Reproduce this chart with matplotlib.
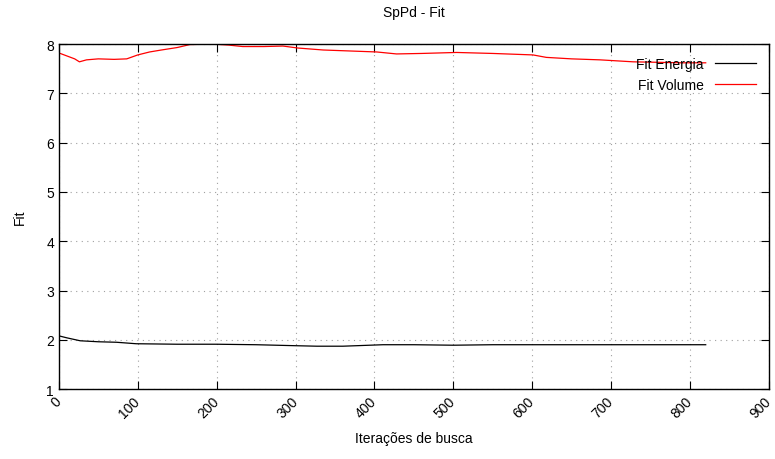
import matplotlib
matplotlib.use("Agg")
import matplotlib.pyplot as plt

plt.rcParams['font.family'] = ['Liberation Sans', 'DejaVu Sans']

# curvas (iteracao, fit)
iter_volume = [0, 10, 20, 26, 35, 50, 70, 86, 100, 115, 130, 150, 166, 180, 200, 215, 233,
               260, 284, 303, 335, 369, 403, 428, 460, 504, 550, 601, 618, 650, 686, 728,
               760, 790, 820]
fit_volume = [7.82, 7.76, 7.70, 7.64, 7.68, 7.70, 7.69, 7.70, 7.78, 7.84, 7.88, 7.93, 7.99,
              7.995, 7.995, 7.98, 7.95, 7.95, 7.96, 7.92, 7.88, 7.86, 7.84, 7.80, 7.81, 7.83,
              7.81, 7.78, 7.73, 7.70, 7.68, 7.64, 7.63, 7.62, 7.62]

iter_energia = [0, 10, 27, 50, 73, 98, 150, 200, 250, 300, 327, 360, 411, 450, 500, 550,
                600, 700, 820]
fit_energia = [2.08, 2.04, 1.98, 1.96, 1.95, 1.92, 1.91, 1.91, 1.90, 1.88, 1.87, 1.87, 1.90,
               1.90, 1.89, 1.90, 1.90, 1.90, 1.90]

xticks = [0, 100, 200, 300, 400, 500, 600, 700, 800, 900]
yticks = [1, 2, 3, 4, 5, 6, 7, 8]

fig = plt.figure(figsize=(7.75, 4.6), dpi=100)
ax = fig.add_axes([0.076, 0.152, 0.916, 0.750])

ax.plot(iter_energia, fit_energia, color='black', lw=0.9, label='Fit Energia')
ax.plot(iter_volume, fit_volume, color='red', lw=0.9, label='Fit Volume')

ax.set_xlim(0, 900)
ax.set_ylim(1, 8)
ax.set_xticks(xticks)
ax.set_yticks(yticks)
ax.set_xticklabels([str(t) for t in xticks], rotation=45, ha='right', va='center',
                   rotation_mode='anchor', fontsize=10)
ax.tick_params(axis='x', pad=7)
for lab in ax.get_yticklabels():
    lab.set_fontsize(10)
ax.tick_params(direction='in', top=True, right=True, length=6, width=0.8)
ax.grid(True, color='#a0a0a0', linestyle=(0, (1, 4)), lw=0.8)
for sp in ax.spines.values():
    sp.set_linewidth(1.0)

ax.set_title('SpPd - Fit', fontsize=10, pad=20)
ax.set_ylabel('Fit', fontsize=10, labelpad=14)
ax.set_xlabel('Iterações de busca', fontsize=10, labelpad=8)

ax.legend(loc='upper right', frameon=False, markerfirst=False, fontsize=10,
          handlelength=3.0, labelspacing=0.55, bbox_to_anchor=(1.0, 1.0))

fig.savefig('out.png', dpi=100)
